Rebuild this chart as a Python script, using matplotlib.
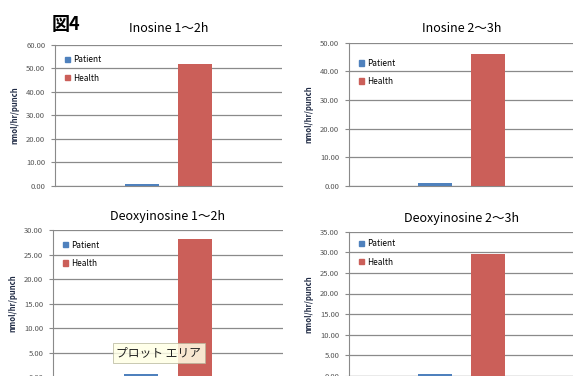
import numpy as np
import matplotlib.pyplot as plt
from matplotlib.patches import Patch

plt.rcParams['font.family'] = ['Noto Sans CJK JP', 'DejaVu Sans']

titles = ["Inosine 1～2h", "Inosine 2～3h", "Deoxyinosine 1～2h", "Deoxyinosine 2～3h"]
series = ["Patient", "Health"]
patient = [0.6, 1.0, 0.7, 0.5]
health = [51.8, 46.0, 28.2, 29.5]
ymax = [60, 50, 30, 35]
ystep = [10, 10, 5, 5]
ylabel = "nmol/hr/punch"

colors = ["#4F81BD", "#CB5F59"]
grid_c = "#8A8A8A"

W, H = 573, 376
# axes boxes in pixels: left, top, right, bottom
boxes = [(55, 45, 282, 185.7), (349, 42.7, 574, 185.7),
         (53, 230, 283, 377.2), (349, 231.7, 574, 375.9)]
legend_pos = [(0.03, 0.95), (0.03, 0.91), (0.03, 0.95), (0.03, 0.97)]
title_pad = [9, 8, 7, 7]

fig = plt.figure(figsize=(W / 100, H / 100), dpi=100)

for i, (l, t, r, b) in enumerate(boxes):
    ax = fig.add_axes([l / W, 1 - b / H, (r - l) / W, (b - t) / H])
    vals = [patient[i], health[i]]
    offs = [-0.117, 0.117]
    for j in range(2):
        ax.bar(offs[j], vals[j], width=0.15, color=colors[j], zorder=3)
    ax.set_xlim(-0.5, 0.5)
    ax.set_ylim(0, ymax[i])
    ax.set_yticks(np.arange(0, ymax[i] + 0.1, ystep[i]))
    ax.set_yticklabels(["%.2f" % v for v in ax.get_yticks()])
    ax.set_xticks([])
    ax.grid(axis='y', color=grid_c, lw=0.9, zorder=0)
    for s in ["top", "right"]:
        ax.spines[s].set_visible(False)
    ax.spines["left"].set_color(grid_c)
    ax.spines["bottom"].set_color(grid_c)
    ax.tick_params(axis='y', labelsize=5.5, labelcolor="#555555", color=grid_c,
                   length=3, width=0.8, pad=4)
    ax.set_ylabel(ylabel, fontsize=5.5, fontweight='bold', color="#1F2A44", labelpad=5)
    ax.set_title(titles[i], fontsize=9, pad=title_pad[i])
    handles = [Patch(color=colors[k], label=series[k]) for k in range(2)]
    ax.legend(handles=handles, loc='upper left', bbox_to_anchor=legend_pos[i],
              frameon=False, fontsize=6, handlelength=0.6, handleheight=0.6,
              handletextpad=0.4, labelspacing=1.1, borderaxespad=0)
    if i == 2:
        ax.text(-0.04, 5.0, "プロット エリア", ha='center', va='center', fontsize=8.5,
                color="#222222", zorder=5,
                bbox=dict(boxstyle='square,pad=0.3', fc="#FFFFE6", ec="#B5B59A",
                          lw=0.6, alpha=0.85))

fig.text(52 / W, 1 - 25 / H, "図4", fontsize=13, fontweight='bold', va='center')

fig.savefig("out.png", dpi=100)
